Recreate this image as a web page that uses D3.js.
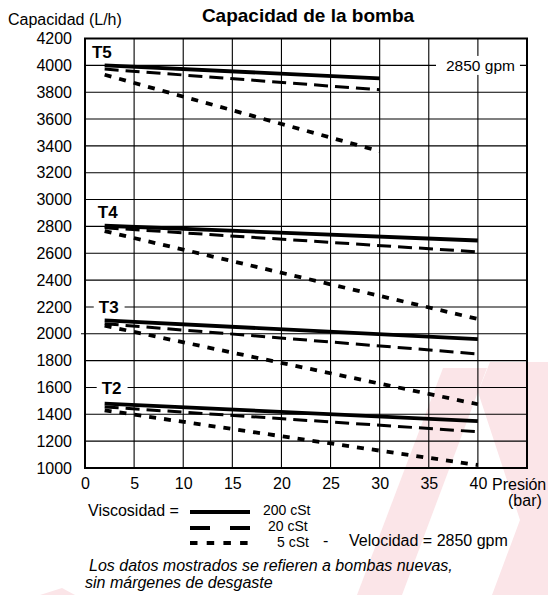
<!DOCTYPE html>
<html><head><meta charset="utf-8">
<script src="https://cdn.jsdelivr.net/npm/d3@7"></script>
<style>
html,body{margin:0;padding:0;background:#fff;}
svg{display:block;font-family:"Liberation Sans",Arial,Helvetica,sans-serif;}
</style></head>
<body><svg id="c" width="548" height="595"></svg>
<script>
// ---- data ----
const pumps = ["T5", "T4", "T3", "T2"];
const viscosities = ["200 cSt", "20 cSt", "5 cSt"];
const pressureStart = 2;
const pressureEnd = [30, 40, 40, 40];
// capacity (L/h) at start / end pressure, per pump, per viscosity [200, 20, 5 cSt]
const capStart = [[4000, 3972, 3930], [2805, 2790, 2765], [2100, 2075, 2060], [1480, 1455, 1430]];
const capEnd   = [[3903, 3818, 3360], [2695, 2610, 2110], [1960, 1850, 1475], [1350, 1270, 1022]];
const xTicks = [0, 5, 10, 15, 20, 25, 30, 35, 40];
const yTicks = [1000, 1200, 1400, 1600, 1800, 2000, 2200, 2400, 2600, 2800, 3000, 3200, 3400, 3600, 3800, 4000, 4200];

const FONT = "Liberation Sans, Arial, Helvetica, sans-serif";
const svg = d3.select("#c");

// faint watermark in background
const wm = svg.append("g").attr("fill", "#fbe5e8");
[
  [[357,595],[402,595],[487,368],[443,368]],
  [[492,595],[548,595],[548,362],[490,362],[478,392],[520,520]],
  [[40,595],[75,595],[62,588]]
].forEach(p => wm.append("polygon").attr("points", p.map(d=>d.join(",")).join(" ")));

const x = d3.scaleLinear().domain([0, 45]).range([85, 527]);
const y = d3.scaleLinear().domain([1000, 4200]).range([468, 38.5]);

// grid
const grid = svg.append("g").attr("stroke", "#000").attr("stroke-width", 1.1);
d3.range(5, 45, 5).forEach(v => grid.append("line").attr("x1", x(v)).attr("x2", x(v)).attr("y1", y(4200)).attr("y2", y(1000)));
yTicks.slice(1, -1).forEach(v => grid.append("line").attr("x1", v === 2000 ? 81 : x(0)).attr("x2", x(45)).attr("y1", y(v)).attr("y2", y(v)));

// frame
svg.append("rect").attr("x", x(0)).attr("y", y(4200)).attr("width", x(45) - x(0)).attr("height", y(1000) - y(4200))
  .attr("fill", "none").attr("stroke", "#000").attr("stroke-width", 2);

// axes (labels only)
const yAxis = d3.axisLeft(y).tickValues(yTicks).tickSize(0).tickPadding(13).tickFormat(d3.format("d"));
const gy = svg.append("g").attr("transform", `translate(${x(0)},0)`).call(yAxis);
gy.select(".domain").remove();
gy.selectAll("text").attr("font-size", 16).attr("font-family", FONT).attr("fill", "#000");

const xAxis = d3.axisBottom(x).tickValues(xTicks).tickSize(0).tickPadding(10).tickFormat(d3.format("d"));
const gx = svg.append("g").attr("transform", `translate(0,${y(1000)})`).call(xAxis);
gx.select(".domain").remove();
gx.selectAll("text").attr("font-size", 16).attr("font-family", FONT).attr("fill", "#000");

// styles per viscosity
const styles = [
  { w: 3.8, dash: null },
  { w: 3.0, dash: "14,7" },
  { w: 3.8, dash: "7,8" }
];

const line = d3.line().x(d => x(d[0])).y(d => y(d[1]));
const lg = svg.append("g").attr("fill", "none").attr("stroke", "#000");
pumps.forEach((p, i) => {
  viscosities.forEach((v, j) => {
    const pts = [[pressureStart, capStart[i][j]], [pressureEnd[i], capEnd[i][j]]];
    lg.append("path").attr("d", line(pts)).attr("stroke-width", styles[j].w)
      .attr("stroke-dasharray", styles[j].dash);
  });
});

// pump labels
const labelPos = [[0.7, 4100, false], [1.3, 2910, false], [1.4, 2200, true], [1.7, 1600, true]];
pumps.forEach((p, i) => {
  const [lx, ly, bg] = labelPos[i];
  const g = svg.append("g");
  const t = g.append("text").attr("x", x(lx)).attr("y", y(ly)).attr("dy", "0.36em")
    .attr("font-size", 17).attr("font-weight", "bold").text(p);
  if (bg) {
    const bb = t.node().getBBox();
    g.insert("rect", "text").attr("x", bb.x - 5).attr("y", bb.y + 2).attr("width", bb.width + 11).attr("height", bb.height - 4).attr("fill", "#fff");
  }
});

// 2850 gpm label
{
  const g = svg.append("g");
  const t = g.append("text").attr("x", 446).attr("y", y(4000)).attr("dy", "0.36em").attr("font-size", 15.5).text("2850 gpm");
  const bb = t.node().getBBox();
  g.insert("rect", "text").attr("x", bb.x - 10).attr("y", bb.y - 1).attr("width", bb.width + 15).attr("height", bb.height + 2).attr("fill", "#fff");
}

// titles
svg.append("text").attr("x", 308).attr("y", 22).attr("text-anchor", "middle").attr("font-size", 19).attr("font-weight", "bold").text("Capacidad de la bomba");
svg.append("text").attr("x", 8).attr("y", 25).attr("font-size", 16).text("Capacidad (L/h)");
svg.append("text").attr("x", 492).attr("y", 489.5).attr("font-size", 16).text("Presión");
svg.append("text").attr("x", 508).attr("y", 506).attr("font-size", 16).text("(bar)");

// legend
const legY = [512, 528, 543];
svg.append("text").attr("x", 88).attr("y", 516).attr("font-size", 16).text("Viscosidad =");
const legLabelX = [263, 268, 277];
const legTextY = [514.5, 530.5, 546.5];
const legDash = [null, "20,20", "7.5,9.2"];
viscosities.forEach((v, j) => {
  svg.append("line").attr("x1", 190).attr("x2", 250).attr("y1", legY[j]).attr("y2", legY[j])
    .attr("stroke", "#000").attr("stroke-width", j === 1 ? 4 : 3.8)
    .attr("stroke-dasharray", legDash[j]);
  svg.append("text").attr("x", legLabelX[j]).attr("y", legTextY[j]).attr("font-size", 14).text(v);
});
svg.append("text").attr("x", 323).attr("y", 546).attr("font-size", 16).text("-");
svg.append("text").attr("x", 349).attr("y", 546).attr("font-size", 16).text("Velocidad = 2850 gpm");

// footnote
svg.append("text").attr("x", 89).attr("y", 571).attr("font-size", 16).attr("font-style", "italic").text("Los datos mostrados se refieren a bombas nuevas,");
svg.append("text").attr("x", 85).attr("y", 588).attr("font-size", 16).attr("font-style", "italic").text("sin márgenes de desgaste");
</script></body></html>
